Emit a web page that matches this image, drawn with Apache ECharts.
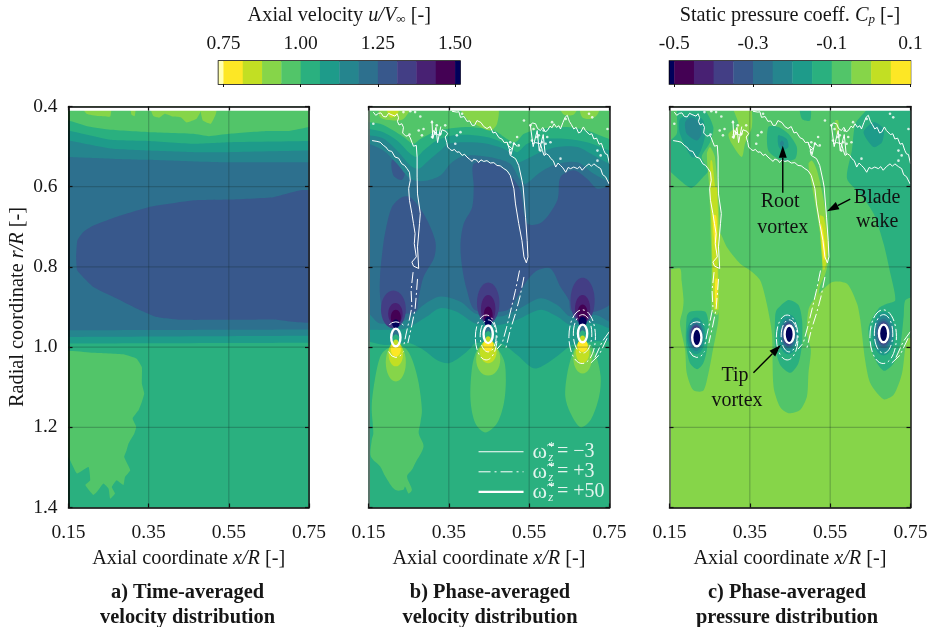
<!DOCTYPE html>
<html><head><meta charset="utf-8">
<style>html,body{margin:0;padding:0;background:#fff}#c{width:934px;height:627px}</style>
<script src="https://cdn.jsdelivr.net/npm/echarts@6/dist/echarts.min.js"></script>
</head><body><div id="c"></div>
<script>
// ---------- tick labels and scales ----------
const xTicks = [0.15, 0.35, 0.55, 0.75];
const rTicksInner = [0.6, 0.8, 1.0, 1.2];
const velocityTicks = [0.75, 1.00, 1.25, 1.50];
const pressureTicks = [-0.5, -0.3, -0.1, 0.1];
// colourbar bands, [from, to, band]
const velocityBands = [[0.734,0.75,'X'],[0.75,0.8125,'Y'],[0.8125,0.875,'L'],[0.875,0.9375,'G'],[0.9375,1.0,'M'],[1.0,1.0625,'T'],[1.0625,1.125,'U'],[1.125,1.1875,'V'],[1.1875,1.25,'B'],[1.25,1.3125,'D'],[1.3125,1.375,'I'],[1.375,1.4375,'P'],[1.4375,1.5,'Q'],[1.5,1.516,'N']];
const pressureBands = [[-0.512,-0.5,'N'],[-0.5,-0.45,'Q'],[-0.45,-0.4,'P'],[-0.4,-0.35,'I'],[-0.35,-0.3,'D'],[-0.3,-0.25,'B'],[-0.25,-0.2,'V'],[-0.2,-0.15,'U'],[-0.15,-0.1,'T'],[-0.1,-0.05,'M'],[-0.05,0,'G'],[0,0.05,'L'],[0.05,0.1,'Y']];
const captions = ['a) Time-averaged\nvelocity distribution','b) Phase-averaged\nvelocity distribution','c) Phase-averaged\npressure distribution'];

// ---------- panel a: contour edges and regions (x/R, r/R) ----------
const aEdgeM = [[.15,.435],[.2,.45],[.254,.458],[.35,.464],[.462,.468],[.5,.474],[.55,.468],[.645,.461],[.7,.461],[.75,.451]];
const aEdgeT = [[.15,.46],[.254,.483],[.35,.486],[.462,.493],[.55,.489],[.75,.486]];
const aEdgeU = [[.15,.485],[.254,.505],[.35,.51],[.462,.514],[.55,.514],[.75,.51]];
const aEdgeV = [[.15,.526],[.254,.53],[.35,.533],[.462,.537],[.55,.539],[.75,.539]];
const aLowB = [[.15,.958],[.75,.956]];
const aLowV = [[.15,.975],[.75,.972]];
const aLowU = [[.15,.991],[.75,.989]];
const aCore = [[.76,.611],[.728,.609],[.661,.626],[.549,.632],[.462,.634],[.35,.651],[.279,.672],[.212,.697],[.187,.713],[.172,.734],[.169,.775],[.172,.809],[.212,.85],[.279,.883],[.329,.908],[.37,.925],[.428,.932],[.549,.932],[.661,.931],[.76,.936]];
const aPatch = [[.14,1.012],[.212,1.014],[.287,1.018],[.32,1.029],[.333,1.05],[.333,1.091],[.339,1.116],[.333,1.137],[.325,1.157],[.31,1.178],[.319,1.199],[.314,1.216],[.3,1.24],[.295,1.257],[.289,1.274],[.304,1.307],[.291,1.324],[.287,1.344],[.27,1.332],[.258,1.349],[.266,1.365],[.254,1.378],[.25,1.353],[.237,1.34],[.221,1.361],[.212,1.369],[.192,1.344],[.204,1.332],[.2,1.299],[.171,1.315],[.154,1.282],[.14,1.257]];
const aTop1 = [[.183,.40],[.195,.418],[.225,.424],[.254,.425],[.256,.40]];
const aTop2 = [[.305,.40],[.307,.42],[.315,.424],[.318,.40]];
const aTop3 = [[.354,.40],[.362,.424],[.376,.428],[.39,.418],[.41,.425],[.43,.427],[.445,.44],[.47,.43],[.484,.40]];
const aTop4 = [[.479,.40],[.485,.435],[.505,.443],[.517,.42],[.52,.40]];

// ---------- panel b ----------
const bLowB = [[.15,.916],[.179,.941],[.246,.932],[.287,.895],[.329,.874],[.379,.887],[.416,.916],[.478,.924],[.52,.907],[.578,.878],[.62,.895],[.653,.924],[.716,.92],[.75,.937]];
const bLowV = [[.15,.957],[.195,.957],[.245,.953],[.295,.924],[.328,.903],[.37,.912],[.416,.941],[.474,.945],[.52,.932],[.578,.907],[.62,.924],[.653,.945],[.716,.941],[.75,.953]];
const bLowU = [[.15,.986],[.191,.995],[.249,.99],[.287,1.007],[.32,1.032],[.35,1.04],[.379,1.024],[.404,1.003],[.416,.99],[.478,.99],[.52,1.02],[.561,1.053],[.595,1.04],[.628,1.016],[.657,.995],[.711,.986],[.75,.986]];
const bTopV = [[.15,.493],[.187,.51],[.221,.543],[.254,.58],[.287,.586],[.329,.572],[.354,.543],[.379,.526],[.42,.522],[.47,.53],[.503,.543],[.528,.584],[.541,.593],[.578,.564],[.62,.543],[.67,.539],[.711,.568],[.75,.588]];
const bTopU = [[.15,.472],[.187,.48],[.221,.51],[.254,.547],[.275,.555],[.295,.539],[.329,.51],[.35,.493],[.395,.489],[.445,.493],[.495,.51],[.52,.539],[.545,.53],[.578,.514],[.62,.501],[.67,.501],[.711,.522],[.75,.543]];
const bTopT = [[.15,.456],[.187,.464],[.221,.485],[.254,.518],[.27,.526],[.287,.51],[.32,.485],[.362,.472],[.412,.472],[.462,.481],[.503,.501],[.52,.514],[.545,.493],[.586,.481],[.645,.481],[.694,.489],[.728,.501],[.75,.51]];
const bTopM = [[.15,.439],[.179,.443],[.212,.46],[.237,.476],[.262,.493],[.279,.481],[.312,.464],[.345,.456],[.395,.451],[.462,.46],[.495,.481],[.516,.489],[.537,.468],[.578,.456],[.645,.451],[.694,.46],[.75,.481]];
const bTopG1 = [[.179,.40],[.179,.427],[.212,.435],[.237,.431],[.254,.40]];
const bTopL1 = [[.196,.40],[.204,.427],[.221,.422],[.225,.40]];
const bTopG2 = [[.379,.40],[.395,.431],[.42,.447],[.453,.46],[.47,.443],[.47,.40]];
const bTopG3 = [[.628,.40],[.636,.42],[.661,.42],[.67,.40]];
const bTopG4 = [[.678,.40],[.682,.427],[.703,.431],[.72,.42],[.724,.40]];
const bCoreRight = [[.412,.543],[.462,.543],[.499,.568],[.528,.609],[.545,.692],[.582,.688],[.62,.634],[.628,.576],[.661,.559],[.694,.58],[.72,.605],[.76,.6],[.76,.88],[.72,.91],[.655,.91],[.649,.883],[.628,.85],[.603,.804],[.57,.809],[.545,.834],[.52,.875],[.495,.908],[.416,.908],[.395,.858],[.383,.8],[.379,.742],[.387,.692],[.408,.651],[.412,.601]];
const bCoreLeft = [[.233,.626],[.254,.626],[.287,.667],[.316,.734],[.314,.775],[.287,.825],[.275,.875],[.266,.912],[.191,.912],[.179,.875],[.179,.817],[.183,.775],[.191,.717],[.208,.651]];
const bCoreSmall = [[.208,.534],[.225,.534],[.241,.559],[.233,.583],[.212,.572]];
const bPlume1 = [[.192,1.007],[.179,1.024],[.167,1.074],[.158,1.148],[.162,1.215],[.158,1.232],[.156,1.273],[.179,1.298],[.192,1.323],[.216,1.356],[.237,1.356],[.241,1.348],[.25,1.365],[.258,1.356],[.246,1.323],[.258,1.306],[.266,1.29],[.287,1.248],[.275,1.215],[.279,1.19],[.283,1.157],[.275,1.09],[.262,1.04],[.246,1.007],[.221,.995]];
const bPlume2 = [[.42,1.007],[.408,1.049],[.404,1.132],[.416,1.19],[.441,1.213],[.47,1.19],[.487,1.14],[.492,1.082],[.487,1.032],[.462,.995],[.437,.991]];
const bPlume3 = [[.661,1.007],[.645,1.065],[.64,1.124],[.653,1.165],[.678,1.2],[.703,1.182],[.724,1.124],[.728,1.074],[.715,1.016],[.699,.991],[.674,.991]];
// [x, r, half-width, half-height, band]
const bVortexLobes = [
 [.212,.906,.031,.047,'I'],[.217,.917,.018,.027,'P'],[.218,.926,.0125,.019,'Q'],[.218,.942,.009,.011,'N'],
 [.448,.89,.028,.051,'I'],[.448,.905,.018,.035,'P'],[.448,.92,.011,.021,'Q'],[.448,.937,.009,.013,'N'],
 [.683,.884,.03,.057,'I'],[.683,.905,.019,.035,'P'],[.683,.917,.0125,.023,'Q'],[.683,.937,.01,.0125,'N'],
 [.218,1.038,.025,.048,'G'],[.218,1.017,.018,.031,'L'],[.218,1.005,.0125,.019,'Y'],
 [.448,1.03,.03,.041,'G'],[.448,1.011,.021,.029,'L'],[.448,.995,.012,.017,'Y'],
 [.683,1.028,.023,.038,'G'],[.683,1.011,.017,.029,'L'],[.683,.996,.0125,.016,'Y'],
 [.218,.966,.0075,.012,'B'],[.218,.98,.0075,.012,'T'],[.218,.99,.007,.009,'L'],
 [.448,.958,.0075,.012,'B'],[.448,.972,.0075,.012,'T'],[.448,.982,.007,.009,'L'],
 [.683,.956,.0075,.012,'B'],[.683,.97,.0075,.012,'T'],[.683,.98,.007,.009,'L']];

// ---------- panel c ----------
const cOutline = [[.14,.39],[.76,.39],[.76,.97],[.741,.982],[.729,1.065],[.708,1.119],[.683,1.13],[.65,1.09],[.637,1.032],[.625,.932],[.617,.892],[.592,.842],[.554,.838],[.509,.8825],[.496,.907],[.492,.966],[.502,1.007],[.496,1.065],[.492,1.124],[.475,1.157],[.446,1.165],[.425,1.149],[.409,1.099],[.405,.966],[.392,.891],[.376,.834],[.351,.809],[.326,.792],[.293,.751],[.276,.717],[.274,.8],[.272,.899],[.272,.932],[.255,1.024],[.247,1.065],[.234,1.109],[.209,1.107],[.193,1.065],[.189,1.007],[.176,.941],[.183,.907],[.185,.883],[.18,.834],[.176,.804],[.14,.804]];
const cTopG = [[.309,.40],[.351,.40],[.355,.451],[.338,.493],[.33,.526],[.305,.493],[.297,.468],[.322,.447]];
const cTopG2 = [[.563,.435],[.57,.435],[.572,.468],[.565,.468]];
const cUpperLeftT = [[.172,.40],[.23,.40],[.259,.451],[.251,.489],[.23,.526],[.247,.559],[.234,.576],[.205,.603],[.176,.584],[.14,.547],[.14,.497],[.168,.468]];
const cUpperLeftU = [[.176,.431],[.209,.418],[.234,.435],[.238,.476],[.222,.522],[.205,.526],[.176,.468]];
const cUpperLeftV = [[.205,.427],[.222,.439],[.23,.468],[.218,.485],[.193,.468],[.189,.439]];
const cRootT = [[.396,.451],[.421,.451],[.446,.468],[.467,.501],[.463,.53],[.43,.535],[.396,.51]];
const cRootU = [[.421,.472],[.442,.481],[.446,.501],[.43,.51],[.421,.497]];
const cRootV = [[.43,.485],[.435,.492],[.43,.502],[.425,.492]];
const cSmallT = [[.475,.40],[.5,.40],[.5,.435],[.48,.431]];
const cRightT = [[.66,.39],[.638,.412],[.613,.443],[.604,.51],[.592,.58],[.625,.618],[.658,.667],[.683,.742],[.7,.817],[.712,.883],[.691,.892],[.671,.903],[.646,.949],[.65,.999],[.667,1.04],[.685,1.059],[.708,1.04],[.725,.991],[.733,.924],[.737,.883],[.76,.87],[.76,.39]];
const cRightU = [[.633,.464],[.658,.439],[.683,.456],[.679,.489],[.658,.501]];
const cPlume2T = [[.413,.924],[.417,.907],[.446,.8825],[.471,.895],[.48,.932],[.48,.991],[.471,1.04],[.451,1.064],[.426,1.045],[.413,.999]];
const cPlume1T = [[.193,.924],[.201,.912],[.239,.912],[.247,.941],[.243,1.007],[.234,1.04],[.219,1.055],[.201,1.04],[.191,.991]];
const cWake1G = [[.243,.518],[.251,.501],[.263,.526],[.272,.634],[.276,.717],[.274,.804],[.274,.908],[.268,.92],[.255,.908],[.255,.804],[.253,.734],[.251,.667],[.249,.601]];
const cWake1L = [[.252,.535],[.256,.535],[.264,.601],[.268,.601],[.272,.717],[.27,.8],[.272,.905],[.261,.905],[.257,.804],[.255,.717],[.251,.601]];
const cWake1Y = [[.258,.672],[.266,.672],[.268,.72],[.265,.76],[.26,.72]];
const cWake1Y2 = [[.264,.83],[.27,.83],[.268,.883],[.264,.895]];
const cWake2G = [[.496,.543],[.505,.535],[.517,.559],[.534,.634],[.546,.734],[.544,.792],[.538,.817],[.524,.85],[.517,.908],[.509,.908],[.517,.858],[.529,.809],[.529,.751],[.517,.667],[.505,.601]];
const cWake2L = [[.524,.672],[.534,.676],[.544,.742],[.54,.792],[.534,.809],[.528,.759]];
const cWake2Y = [[.527,.692],[.532,.709],[.539,.767],[.534,.784],[.53,.75]];
const cVortexRings = [
 [.216,.972,.0233,.046,'U'],[.216,.972,.019,.038,'V'],[.216,.972,.0165,.032,'B'],[.216,.972,.0145,.029,'D'],[.216,.972,.0125,.026,'I'],[.218,.976,.0115,.022,'N'],
 [.446,.968,.0255,.05,'U'],[.446,.968,.021,.04,'V'],[.446,.968,.0175,.034,'B'],[.446,.968,.015,.03,'D'],[.446,.968,.013,.026,'I'],[.448,.968,.0115,.022,'N'],
 [.683,.966,.028,.055,'U'],[.683,.966,.023,.045,'V'],[.683,.966,.019,.037,'B'],[.683,.966,.016,.031,'D'],[.683,.966,.013,.027,'I'],[.683,.966,.0115,.022,'N']];

// ---------- vorticity contours, shared by b and c ----------
const omegaMinus3A = [[.159,.485],[.171,.487],[.179,.489],[.187,.497],[.193,.501],[.2,.51],[.208,.512],[.216,.526],[.225,.529],[.233,.543],[.24,.547],[.246,.555],[.252,.564],[.254,.584],[.25,.605],[.252,.634],[.258,.667],[.262,.692],[.266,.717],[.264,.742],[.269,.775],[.258,.788],[.262,.798],[.275,.804],[.272,.75],[.277,.692],[.279,.667],[.272,.618],[.271,.576],[.271,.526],[.269,.497],[.262,.499],[.258,.489],[.254,.478],[.25,.472],[.243,.474],[.235,.466],[.237,.452],[.233,.443],[.226,.446],[.222,.437],[.225,.428],[.221,.418],[.216,.424],[.212,.427],[.206,.42],[.2,.417],[.194,.426],[.187,.425],[.181,.416],[.175,.417],[.168,.422],[.162,.414]];
const omegaMinus3B = [[.308,.472],[.312,.46],[.316,.456],[.322,.47],[.329,.472],[.333,.458],[.337,.456],[.343,.462],[.347,.468],[.341,.476],[.345,.49],[.347,.501],[.353,.507],[.358,.51],[.364,.507],[.37,.514],[.376,.513],[.383,.522],[.389,.519],[.395,.526],[.401,.531],[.408,.537],[.412,.531],[.416,.535],[.42,.534],[.424,.54],[.43,.533],[.437,.537],[.445,.535],[.453,.541],[.462,.54],[.47,.547],[.478,.548],[.487,.555],[.495,.56],[.503,.572],[.512,.605],[.516,.643],[.524,.692],[.532,.734],[.537,.775],[.543,.79],[.547,.775],[.545,.734],[.541,.676],[.535,.601],[.532,.584],[.524,.547],[.516,.53],[.503,.522],[.5,.51],[.507,.505],[.498,.497],[.495,.489],[.488,.49],[.482,.481],[.475,.478],[.466,.464],[.46,.466],[.453,.45],[.445,.455],[.437,.45],[.43,.44],[.42,.435],[.414,.447],[.408,.447],[.402,.436],[.395,.437],[.388,.425],[.379,.427],[.375,.413],[.37,.414],[.358,.412]];
const omegaMinus3C = [[.553,.447],[.558,.441],[.566,.443],[.571,.455],[.578,.46],[.584,.452],[.59,.463],[.595,.46],[.602,.449],[.607,.453],[.612,.443],[.618,.452],[.624,.448],[.628,.456],[.634,.44],[.64,.426],[.645,.422],[.65,.437],[.655,.445],[.661,.456],[.667,.452],[.673,.466],[.678,.464],[.685,.451],[.69,.46],[.694,.456],[.7,.47],[.706,.468],[.711,.481],[.718,.479],[.724,.494],[.73,.492],[.736,.51],[.74,.518],[.745,.52],[.75,.543]];
const omegaMinus3D = [[.557,.493],[.566,.49],[.578,.493],[.583,.51],[.587,.522],[.593,.518],[.599,.522],[.604,.53],[.61,.535],[.616,.551],[.622,.541],[.628,.547],[.634,.553],[.641,.564],[.647,.552],[.653,.555],[.661,.551],[.67,.555],[.676,.55],[.682,.559],[.69,.55],[.699,.543],[.705,.549],[.711,.543],[.72,.55],[.728,.555],[.733,.57],[.74,.575],[.749,.593]];
const omegaMinus3E = [[.308,.435],[.31,.48],[.318,.452],[.322,.49],[.33,.45]];
const omegaMinus3F = [[.553,.447],[.56,.5],[.57,.46],[.575,.51],[.585,.47],[.59,.52]];
const omegaMinus3G = [[.495,.489],[.505,.52],[.512,.49],[.52,.5]];
const omegaSpecks = [[.162,.443],[.279,.425],[.275,.46],[.287,.456],[.283,.472],[.252,.47],[.308,.439],[.32,.447],[.308,.476],[.316,.468],[.329,.468],[.341,.447],[.366,.493],[.37,.472],[.379,.464],[.383,.418],[.512,.493],[.524,.497],[.52,.476],[.503,.489],[.537,.435],[.557,.485],[.57,.476],[.586,.46],[.582,.489],[.595,.476],[.578,.51],[.603,.489],[.607,.439],[.641,.431],[.699,.418],[.707,.427],[.72,.51],[.728,.522],[.745,.456],[.72,.535],[.553,.447],[.561,.456],[.574,.472],[.591,.493],[.254,.412],[.266,.414],[.237,.414],[.628,.53]];
const omegaPlus3A = [[.261,.813],[.256,.858],[.258,.9],[.252,.93],[.243,.97],[.237,1.0]];
const omegaPlus3B = [[.272,.83],[.269,.87],[.266,.905],[.258,.945],[.248,.99]];
const omegaPlus3C = [[.526,.809],[.516,.858],[.505,.905],[.494,.95],[.483,.99],[.47,1.005]];
const omegaPlus3D = [[.537,.825],[.527,.875],[.516,.916],[.503,.957],[.491,1.007]];
const omegaPlus3E = [[.75,.961],[.732,.986],[.711,1.032]];
const omegaPlus3F = [[.744,.978],[.724,1.02],[.703,1.04]];
const omegaPlus3G = [[.202,.945],[.208,.939],[.218,.937],[.229,.939],[.237,.945]];
const omegaPlus3H = [[.2,1.011],[.208,1.022],[.218,1.026],[.229,1.022],[.237,1.011]];
const omegaPlus3Rings = [[.443,.976,.027,.056],[.448,.972,.02,.04],[.682,.974,.033,.067],[.683,.967,.023,.048]];
const omegaPlus50Rings = [[.218,.976,.0115,.022],[.448,.968,.0115,.022],[.683,.966,.0115,.022]];

// ---------- legend and annotations ----------
const legendRows = [1.261, 1.311, 1.361];
const legendLineX = [.424, .536];
const legendValues = ['= \u22123', '= +3', '= +50'];
const annotationTexts = [[.4255,.638,'Root'],[.432,.703,'vortex'],[.667,.628,'Blade'],[.667,.688,'wake'],[.313,1.072,'Tip'],[.318,1.134,'vortex']];
const annotationArrows = [[.432,.615,.432,.498],[.60,.631,.542,.661],[.359,1.064,.427,.995]];

// ---------- styling ----------
const K = {X:'#ffffb2',Y:'#fde725',L:'#c2df23',G:'#86d549',M:'#52c569',T:'#2ab07f',U:'#1e9b8a',V:'#25858e',B:'#2d708e',D:'#38588c',I:'#433e85',P:'#482173',Q:'#440154',N:'#00005a',W:'#ffffff'};
const FONT = '"Liberation Serif","Times New Roman",serif';
const INK = '#161616';
const GRIDS = [{left:68.5,top:106.5,width:240.5,height:401},{left:368.5,top:106.5,width:241,height:401},{left:669.5,top:106.5,width:241,height:401}];

function ext(e){return [[.14,e[0][1]],...e,[.76,e[e.length-1][1]]];}
function above(e){return [[.14,.39],[.76,.39],...ext(e).reverse()];}
function between(u,l){return [...ext(u),...ext(l).reverse()];}
const FULL = [[.14,.39],[.76,.39],[.76,1.45],[.14,1.45]];
const STRIP = [[.14,.38],[.76,.38],[.76,.4105],[.14,.4105]];

const panelA = [['T',FULL],['M',above(aEdgeM)],['U',between(aEdgeT,aLowU)],['V',between(aEdgeU,aLowV)],['B',between(aEdgeV,aLowB)],['D',aCore],['M',aPatch],['G',aTop1],['G',aTop2],['G',aTop3],['G',aTop4]];
const panelB = [['T',FULL],['U',above(bLowU)],['V',above(bLowV)],['B',above(bLowB)],['D',bCoreRight],['D',bCoreLeft],['D',bCoreSmall],['V',above(bTopV)],['U',above(bTopU)],['T',above(bTopT)],['M',above(bTopM)],['G',bTopG1],['L',bTopL1],['G',bTopG2],['G',bTopG3],['G',bTopG4],['M',bPlume1],['M',bPlume2],['M',bPlume3]];
const panelC = [['G',FULL],['M',cOutline],['G',cTopG],['G',cTopG2],['T',cUpperLeftT],['U',cUpperLeftU],['V',cUpperLeftV],['T',cRootT],['U',cRootU],['V',cRootV],['T',cSmallT],['T',cRightT],['U',cRightU],['T',cPlume2T],['T',cPlume1T],['G',cWake1G],['L',cWake1L],['Y',cWake1Y],['Y',cWake1Y2],['G',cWake2G],['L',cWake2L],['Y',cWake2Y]];

function contourSeries(i,list,z,smooth){return {type:'custom',coordinateSystem:'cartesian2d',xAxisIndex:i,yAxisIndex:i,z,silent:true,clip:true,animation:false,
  data:list.map(c=>c[1][0]),
  renderItem:(p,api)=>{const c=list[p.dataIndex];return {type:'polygon',shape:{points:c[1].map(q=>api.coord(q)),smooth},style:{fill:K[c[0]]}};}};}
function ellipseSeries(i,list,z){return {type:'custom',coordinateSystem:'cartesian2d',xAxisIndex:i,yAxisIndex:i,z,silent:true,clip:true,animation:false,
  data:list.map(e=>[e[0],e[1],e[2],e[3]]),
  renderItem:(p,api)=>{const e=list[p.dataIndex];const c=api.coord([e[0],e[1]]);const s=api.size([e[2],e[3]],[e[0],e[1]]);
    return {type:'ellipse',shape:{cx:c[0],cy:c[1],rx:s[0],ry:s[1]},style:{fill:K[e[4]]}};}};}
function ringSeries(i,list,z,width,dash){return {type:'custom',coordinateSystem:'cartesian2d',xAxisIndex:i,yAxisIndex:i,z,silent:true,clip:true,animation:false,
  data:list,
  renderItem:(p,api)=>{const e=list[p.dataIndex];const c=api.coord([e[0],e[1]]);const s=api.size([e[2],e[3]],[e[0],e[1]]);
    return {type:'ellipse',shape:{cx:c[0],cy:c[1],rx:s[0],ry:s[1]},style:{fill:'none',stroke:'#fff',lineWidth:width,lineDash:dash||null}};}};}
function lineSeries(i,pts,width,dash,z){return {type:'line',xAxisIndex:i,yAxisIndex:i,data:pts,showSymbol:false,symbol:'none',z:z||6,silent:true,animation:false,clip:true,
  lineStyle:{color:'#fff',width:width,type:dash||'solid',cap:'butt'}};}
function gridLineSeries(i){
  const segs=[...xTicks.slice(1,3).map(x=>[x,.4,x,1.4]),...rTicksInner.map(r=>[.15,r,.75,r])];
  return {type:'custom',coordinateSystem:'cartesian2d',xAxisIndex:i,yAxisIndex:i,z:4,silent:true,animation:false,data:segs,
  renderItem:(p,api)=>{const s=segs[p.dataIndex];const a=api.coord([s[0],s[1]]),b=api.coord([s[2],s[3]]);
    return {type:'line',shape:{x1:a[0],y1:a[1],x2:b[0],y2:b[1]},style:{stroke:'rgba(20,40,40,0.26)',lineWidth:1.2}};}};}
function overlay(i){
  const dash=[11,3,2,3];
  return [
   ...[omegaMinus3A,omegaMinus3B,omegaMinus3C,omegaMinus3D,omegaMinus3E,omegaMinus3F,omegaMinus3G].map(l=>lineSeries(i,l,1)),
   {type:'scatter',xAxisIndex:i,yAxisIndex:i,data:omegaSpecks,symbolSize:2.6,itemStyle:{color:'#fff'},z:6,silent:true,animation:false},
   ...[omegaPlus3A,omegaPlus3B,omegaPlus3C,omegaPlus3D,omegaPlus3E,omegaPlus3F,omegaPlus3G,omegaPlus3H].map(l=>lineSeries(i,l,1,dash)),
   ringSeries(i,omegaPlus3Rings,6,1,dash),
   ringSeries(i,omegaPlus50Rings,7,2.4)];
}
function textSeries(i,items,size,color,z){return {type:'custom',coordinateSystem:'cartesian2d',xAxisIndex:i,yAxisIndex:i,z:z||8,silent:true,animation:false,
  data:items.map(t=>[t[0],t[1]]),
  renderItem:(p,api)=>{const t=items[p.dataIndex];const c=api.coord([t[0],t[1]]);
    return {type:'text',x:c[0],y:c[1],style:{text:t[2],fill:color,font:(t[3]||'')+' '+(t[4]||size)+'px '+FONT,textAlign:t[5]||'center',textVerticalAlign:'middle'}};}};}
function arrowSeries(i,items){return {type:'custom',coordinateSystem:'cartesian2d',xAxisIndex:i,yAxisIndex:i,z:8,silent:true,animation:false,
  data:items,
  renderItem:(p,api)=>{const a=items[p.dataIndex];const s=api.coord([a[0],a[1]]),e=api.coord([a[2],a[3]]);
    const t=Math.atan2(e[1]-s[1],e[0]-s[0]),L=12,W=4;const bx=e[0]-L*Math.cos(t),by=e[1]-L*Math.sin(t);
    return {type:'group',children:[
      {type:'line',shape:{x1:s[0],y1:s[1],x2:bx,y2:by},style:{stroke:'#000',lineWidth:1.4}},
      {type:'polygon',shape:{points:[e,[bx-W*Math.sin(t),by+W*Math.cos(t)],[bx+W*Math.sin(t),by-W*Math.cos(t)]]},style:{fill:'#000'}}]};}};}
function barSeries(i,bands){return {type:'custom',coordinateSystem:'cartesian2d',xAxisIndex:i,yAxisIndex:i,silent:true,animation:false,
  data:bands.map(b=>[b[0],0,b[1],1]),
  renderItem:(p,api)=>{const b=bands[p.dataIndex];const a=api.coord([b[0],1]),c=api.coord([b[1],0]);
    return {type:'rect',shape:{x:a[0],y:a[1],width:c[0]-a[0]+0.4,height:c[1]-a[1]},style:{fill:K[b[2]]}};}};}

const rich = {r:{fontFamily:FONT,fontSize:20.3,color:INK},i:{fontFamily:FONT,fontSize:20.3,fontStyle:'italic',color:INK},
  si:{fontFamily:FONT,fontSize:13,fontStyle:'italic',color:INK,verticalAlign:'bottom',padding:[5,0,0,0]}};

const xAxis=[], yAxis=[];
[0,1,2].forEach(i=>{
  xAxis.push({gridIndex:i,type:'value',min:.15,max:.75,position:'bottom',z:10,
    name:'{r|Axial coordinate }{i|x/R}{r| [-]}',nameLocation:'middle',nameGap:41,nameTextStyle:{rich},
    splitLine:{show:false},axisLine:{onZero:false,lineStyle:{color:'#000',width:1.6}},
    axisTick:{inside:true,length:4,customValues:xTicks,lineStyle:{color:'#111',width:1.2}},
    axisLabel:{customValues:xTicks,formatter:v=>v.toFixed(2),fontFamily:FONT,fontSize:19.5,color:INK,margin:15}});
  yAxis.push({gridIndex:i,type:'value',min:.4,max:1.4,interval:.2,inverse:true,position:'left',z:10,
    name:i===0?'{r|Radial coordinate }{i|r/R}{r| [-]}':'',nameLocation:'middle',nameGap:41,nameTextStyle:{rich},
    splitLine:{show:false},axisLine:{onZero:false,lineStyle:{color:i===0?'#000':'#666',width:1.6}},
    axisTick:{inside:true,length:4,lineStyle:{color:'#111',width:1.2}},
    axisLabel:{show:i===0,formatter:v=>v.toFixed(1),fontFamily:FONT,fontSize:19.5,color:INK,margin:11}});
});
// colourbars: index 3 and 4
[[velocityBands,velocityTicks,2,'{r|Axial velocity }{i|u/V}{si|\u221E}{r| [-]}'],[pressureBands,pressureTicks,1,'{r|Static pressure coeff. }{i|C}{si|p}{r| [-]}']].forEach((c,j)=>{
  xAxis.push({gridIndex:3+j,type:'value',min:c[0][0][0],max:c[0][c[0].length-1][1],position:'top',z:10,
    name:c[3],nameLocation:'middle',nameGap:35,nameTextStyle:{rich},
    splitLine:{show:false},axisLine:{show:false},
    axisTick:{inside:true,length:3,customValues:c[1],lineStyle:{color:'#111',width:1}},
    axisLabel:{customValues:c[1],formatter:v=>v.toFixed(c[2]),fontFamily:FONT,fontSize:19.5,color:INK,margin:7}});
  yAxis.push({gridIndex:3+j,type:'value',min:0,max:1,show:false,splitLine:{show:false}});
});
// mirrored top/right axes: x index 5-7, y index 5-7
[0,1,2].forEach(i=>{
  xAxis.push({gridIndex:i,type:'value',min:.15,max:.75,position:'top',z:10,splitLine:{show:false},
    axisLine:{onZero:false,lineStyle:{color:'#000',width:1.6}},axisLabel:{show:false},
    axisTick:{inside:true,length:4,customValues:xTicks,lineStyle:{color:'#111',width:1.2}}});
  yAxis.push({gridIndex:i,type:'value',min:.4,max:1.4,interval:.2,inverse:true,position:'right',z:10,splitLine:{show:false},
    axisLine:{onZero:false,lineStyle:{color:'#222',width:1.6}},axisLabel:{show:false},
    axisTick:{inside:true,length:4,lineStyle:{color:'#111',width:1.2}}});
});

const legendGlyphs=[];
legendRows.forEach((r,k)=>{
  legendGlyphs.push([.558,r,'\u03C9\u0303','',22,'left']);
  legendGlyphs.push([.5976,r-.013,'*','',13,'left']);
  legendGlyphs.push([.5976,r+.014,'z','italic',13,'left']);
  legendGlyphs.push([.619,r,legendValues[k],'',20,'left']);
});

const series=[
  contourSeries(0,panelA,1,.12), contourSeries(0,[['W',STRIP]],3,0), gridLineSeries(0),
  contourSeries(1,panelB,1,.3), ellipseSeries(1,bVortexLobes,2), contourSeries(1,[['W',STRIP]],3,0), gridLineSeries(1), ...overlay(1),
  contourSeries(2,panelC,1,.25), ellipseSeries(2,cVortexRings,2), contourSeries(2,[['W',STRIP]],3,0), gridLineSeries(2), ...overlay(2),
  lineSeries(1,legendLineX.map(x=>[x,legendRows[0]]),1,'solid',8),
  lineSeries(1,legendLineX.map(x=>[x,legendRows[1]]),1,[12,4,2,4],8),
  lineSeries(1,legendLineX.map(x=>[x,legendRows[2]]),2.4,'solid',8),
  textSeries(1,legendGlyphs,20,'rgba(255,255,255,0.86)'),
  textSeries(2,annotationTexts,20,'#111'), arrowSeries(2,annotationArrows),
  barSeries(3,velocityBands), barSeries(4,pressureBands)
];

const chart=echarts.init(document.getElementById('c'),null,{renderer:'canvas'});
chart.setOption({
  animation:false,backgroundColor:'#fff',
  title:captions.map((t,i)=>({text:t,left:[182.5,485,782][i],top:575,textAlign:'center',
    textStyle:{fontFamily:FONT,fontWeight:'bold',fontSize:20.4,lineHeight:25,color:INK}})),
  grid:[...GRIDS,{left:218.5,top:61,width:241.5,height:23,show:true,borderColor:'#000',borderWidth:1.5,backgroundColor:'transparent'},
       {left:669.5,top:61,width:241,height:23,show:true,borderColor:'#000',borderWidth:1.5,backgroundColor:'transparent'}],
  xAxis,yAxis,series
});
</script></body></html>
